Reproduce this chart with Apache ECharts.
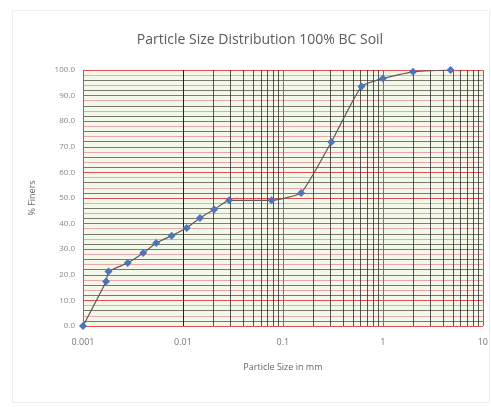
<!DOCTYPE html>
<html><head><meta charset="utf-8">
<script src="https://cdn.jsdelivr.net/npm/echarts@6/dist/echarts.min.js"></script>
<style>html,body{margin:0;padding:0;background:#fff}#c{width:491px;height:407px}</style>
</head><body><div id="c"></div>
<script>
const sizesMm = [0.001, 0.0017, 0.0018, 0.0028, 0.004, 0.0054, 0.0077, 0.0109, 0.0148, 0.0205, 0.029, 0.077, 0.152, 0.305, 0.61, 1.0, 2.0, 4.75];
const percentFiner = [0.0, 17.4, 21.3, 24.6, 28.5, 32.4, 35.3, 38.3, 42.2, 45.5, 49.1, 49.1, 52.0, 71.9, 93.6, 96.7, 99.3, 100.0];
const xTicks = [0.001, 0.01, 0.1, 1, 10];
const yTicks = [0, 10, 20, 30, 40, 50, 60, 70, 80, 90, 100];
const minorMultipliers = [2, 3, 4, 5, 6, 7, 8, 9];

const points = sizesMm.map((d, i) => [d, percentFiner[i]]);
const minorX = [];
xTicks.slice(0, -1).forEach(t => minorMultipliers.forEach(m => minorX.push({ xAxis: +(t * m).toPrecision(3) })));

const chart = echarts.init(document.getElementById('c'));
chart.setOption({
  animation: false,
  textStyle: { fontFamily: 'Open Sans' },
  graphic: [{
    type: 'rect', left: 10, top: 8, shape: { width: 477, height: 392 },
    style: { fill: 'none', stroke: '#eeeeee', lineWidth: 1 }, silent: true, z: -10
  }],
  title: {
    text: 'Particle Size Distribution 100% BC Soil',
    left: 255, top: 28, textAlign: 'center',
    textStyle: { fontSize: 14, fontWeight: 'normal', color: '#5a5a5a', fontFamily: 'Open Sans' }
  },
  grid: { left: 83, right: 8, top: 70, bottom: 81, show: true, backgroundColor: '#f4f8ea', borderWidth: 0 },
  xAxis: {
    type: 'log', logBase: 10, min: 0.001, max: 10,
    name: 'Particle Size in mm', nameLocation: 'middle', nameGap: 37,
    nameTextStyle: { fontSize: 9, color: '#666' },
    axisLine: { show: false }, axisTick: { show: false },
    axisLabel: { fontSize: 9, color: '#777', margin: 12, formatter: v => String(+v.toPrecision(3)) },
    splitLine: { show: true, lineStyle: { color: '#d84848', width: 1 } }
  },
  yAxis: [{
    type: 'value', min: 0, max: 100, interval: 10,
    name: '% Finers', nameLocation: 'middle', nameGap: 46, nameRotate: 90,
    nameTextStyle: { fontSize: 9, color: '#666' },
    axisLine: { show: false }, axisTick: { show: false },
    axisLabel: { fontSize: 8, color: '#888', formatter: v => v.toFixed(1) },
    splitLine: { show: false }
  }, {
    type: 'value', min: 0, max: 100, interval: 2, position: 'left',
    axisLine: { show: false }, axisTick: { show: false }, axisLabel: { show: false },
    splitLine: { show: true, lineStyle: { color: ['#e05050', '#787868', '#eca8a8', '#787868', '#eca8a8'], width: 1 } }
  }],
  series: [{
    type: 'line', data: points, yAxisIndex: 0,
    smooth: 0.15,
    symbol: 'diamond', symbolSize: 8,
    itemStyle: { color: '#4f74b8' },
    lineStyle: { color: '#5a5a5a', width: 1.2 },
    markLine: {
      silent: true, symbol: 'none', label: { show: false },
      lineStyle: { color: '#222', width: 1, type: 'solid', opacity: 0.75 },
      data: minorX
    },
    z: 5
  }]
});
</script></body></html>
